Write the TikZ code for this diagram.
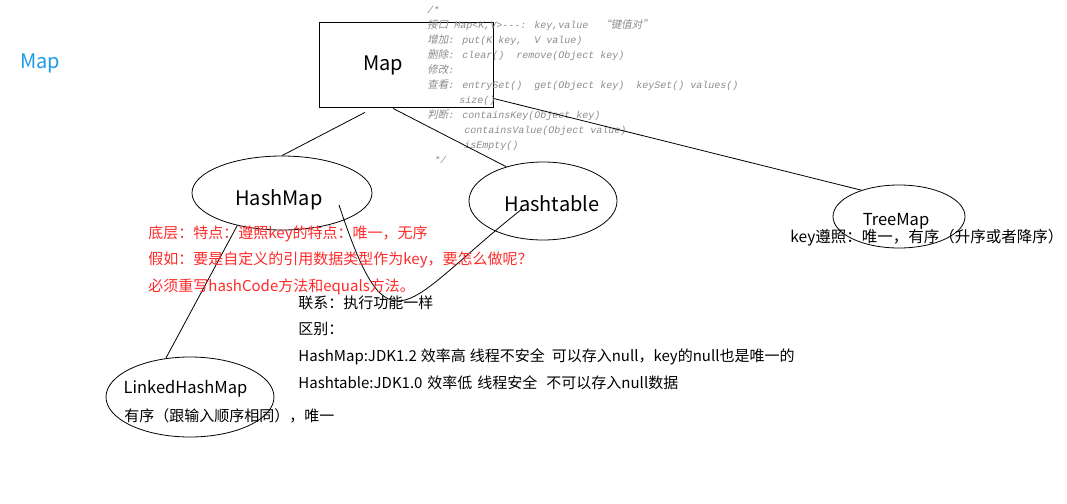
\documentclass[tikz,border=0pt]{standalone}
\usepackage{fontspec}
\setmainfont{Noto Sans CJK SC}
\newfontfamily\codefont{Liberation Mono}[Ligatures=ResetAll]
\newfontfamily\cjkslant{Noto Sans CJK SC}[FakeSlant=0.2]
\usepackage{xcolor}
\usepackage{tikz}
\usetikzlibrary{shapes.geometric,calc}

\definecolor{mapblue}{HTML}{1D9BE8}
\definecolor{notered}{HTML}{FF2A2A}
\definecolor{codegray}{HTML}{8C8C8C}
\newcommand{\cc}[1]{{\cjkslant\fontsize{10.5pt}{15pt}\selectfont #1}}

\begin{document}
\begin{tikzpicture}[
    x=1pt, y=-1pt,
    line width=0.8pt,
    bigtext/.style={font=\fontsize{20pt}{22pt}\selectfont},
    midtext/.style={font=\fontsize{16.5pt}{20pt}\selectfont},
    note/.style={font=\fontsize{15pt}{26.7pt}\selectfont, align=left, inner sep=0pt},
    mapbox/.style={rectangle, draw=black, minimum width=174pt, minimum height=85pt, inner sep=0pt},
    coll/.style={ellipse, draw=black, inner sep=0pt},
    link/.style={draw=black},
]
\useasboundingbox (0,0) rectangle (1067,503);

% Title
\node[bigtext, text=mapblue, anchor=west, inner sep=0pt] (title) at (20,63) {Map};

% Interface
\node[mapbox, label={[bigtext, xshift=-23pt, yshift=-1pt]center:Map}] (map) at (406,64.5) {};

% Comment on the interface
\node[anchor=north west, inner sep=0pt, align=left, text=codegray,
      font=\codefont\itshape\fontsize{10pt}{15pt}\selectfont] (doc) at (427,6) {%
/*\\
\cc{接口} Map<K,V>---: key,value \ \cc{“键值对”}\\
\cc{增加}: put(K key, \ V value)\\
\cc{删除}: clear() \ remove(Object key)\\
\cc{修改}:\\
\cc{查看}: entrySet() \ get(Object key) \ keySet() values()\\
\hspace*{32pt}size()\\
\cc{判断}: containsKey(Object key)\\
\hspace*{37pt}containsValue(Object value)\\
\hspace*{37pt}isEmpty()\\
\hspace*{7pt}*/};

% Implementations
\node[coll, minimum width=180pt, minimum height=74pt,
      label={[bigtext, xshift=-3pt, yshift=-7pt]center:HashMap}] (hm) at (282,193) {};
\node[coll, minimum width=148pt, minimum height=78pt,
      label={[bigtext, xshift=9pt, yshift=-3pt]center:Hashtable}] (ht) at (543,201) {};
\node[coll, minimum width=132pt, minimum height=63pt,
      label={[midtext, xshift=-3pt, yshift=-5pt]center:TreeMap}] (tm) at (899,216.5) {};
\node[coll, minimum width=168pt, minimum height=80pt,
      label={[midtext, xshift=-4.5pt, yshift=8pt]center:LinkedHashMap}] (lhm) at (190,397) {};

% Links
\draw[link] ([shift={(-41,5)}]map.south) -- (hm.north);
\draw[link] ([shift={(-13,1)}]map.south) -- (ht.137);
\draw[link] ([yshift=9pt]map.south east) -- (tm.145);
\draw[link] (hm.216) -- (lhm.122);
\draw[link] ([shift={(57,12)}]hm.center) .. controls +(51,154) and +(-119,94) .. ([shift={(-21,8)}]ht.center);

% Notes
\node[note, text=notered, anchor=north west] (hmnote) at (148,225) {%
底层：特点：遵照key的特点：唯一，无序\\
假如：要是自定义的引用数据类型作为key，要怎么做呢？\\
必须重写hashCode方法和equals方法。};
\node[note, anchor=north west] (cmpnote) at (298,295) {%
联系：执行功能一样\\
区别：\\
HashMap:JDK1.2\hspace{4pt}效率高\hspace{4pt}线程不安全\hspace{7pt}可以存入null，key的null也是唯一的\\
Hashtable:JDK1.0\hspace{5pt}效率低\hspace{5pt}线程安全\hspace{9pt}不可以存入null数据};
\node[note, anchor=west, font=\fontsize{15.5pt}{20pt}\selectfont] (tmnote) at (790,238) {key遵照：唯一，有序（升序或者降序）};
\node[note, anchor=west] (lhmnote) at (124,416) {有序（跟输入顺序相同），唯一};

\end{tikzpicture}
\end{document}
